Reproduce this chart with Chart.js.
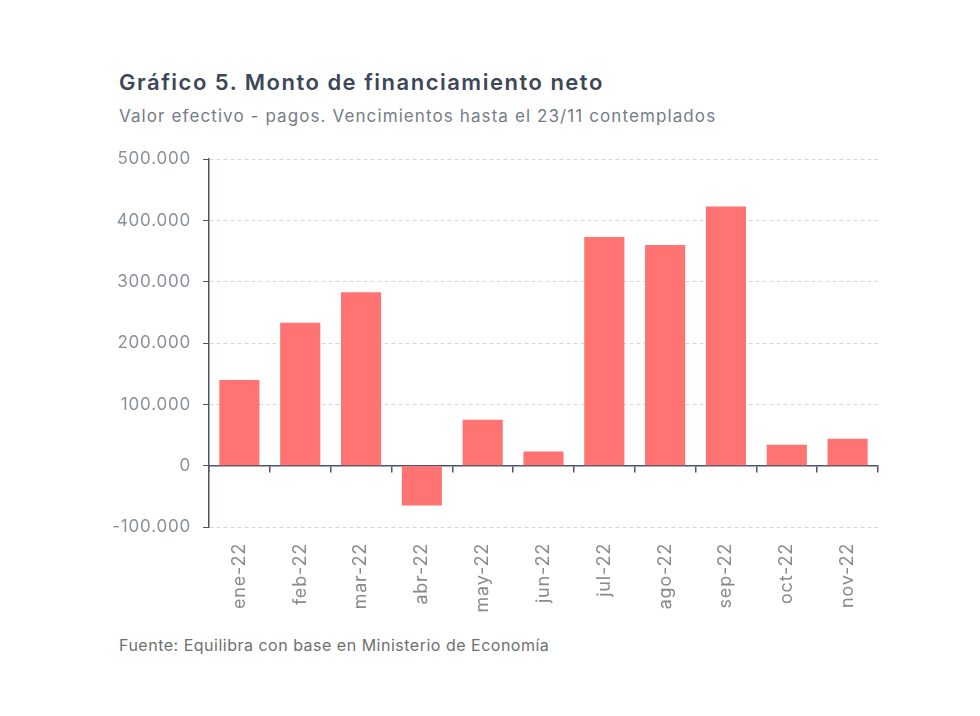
<!DOCTYPE html>
<html>
<head>
<meta charset="utf-8">
<script src="https://cdn.jsdelivr.net/npm/chart.js@4"></script>
<style>
  body { margin: 0; background: #fff; font-family: Inter, "Liberation Sans", sans-serif; }
  #wrap { position: relative; width: 980px; height: 716px; }
  .title { position: absolute; left: 119px; top: 69px; font-size: 22px; font-weight: 600; letter-spacing: 1.5px; color: #3d4759; }
  .subtitle { position: absolute; left: 119px; top: 106px; font-size: 17px; letter-spacing: 1.1px; color: #767c86; }
  .source { position: absolute; left: 119px; top: 635px; font-size: 16px; letter-spacing: 0.5px; color: #6f6f6f; }
  #box { position: absolute; left: 110px; top: 137px; width: 780px; height: 490px; }
</style>
</head>
<body>
<div id="wrap">
  <div class="title">Gráfico 5. Monto de financiamiento neto</div>
  <div class="subtitle">Valor efectivo - pagos. Vencimientos hasta el 23/11 contemplados</div>
  <div id="box"><canvas id="chart"></canvas></div>
  <div class="source">Fuente: Equilibra con base en Ministerio de Economía</div>
</div>
<script>
const months = ['ene-22', 'feb-22', 'mar-22', 'abr-22', 'may-22', 'jun-22', 'jul-22', 'ago-22', 'sep-22', 'oct-22', 'nov-22'];
const netFinancing = [140000, 233000, 283000, -65000, 75000, 23000, 373000, 360000, 423000, 34000, 44000];
const yTicks = [-100000, 0, 100000, 200000, 300000, 400000, 500000];

const axisColor = '#4b5568';
const fmt = (v) => v.toLocaleString('de-DE');

// the reference type is set a little wide, so space the canvas letters
const spacing = {
  id: 'spacing',
  beforeUpdate: (chart) => { chart.ctx.letterSpacing = '0.8px'; },
  beforeDraw: (chart) => { chart.ctx.letterSpacing = '0.8px'; }
};

const ctx = document.getElementById('chart').getContext('2d');
new Chart(ctx, {
  type: 'bar',
  data: {
    labels: months,
    datasets: [{
      data: netFinancing,
      backgroundColor: '#ff7373',
      barPercentage: 0.66,
      categoryPercentage: 1,
      xAxisID: 'x'
    }]
  },
  options: {
    responsive: true,
    maintainAspectRatio: false,
    animation: false,
    layout: { autoPadding: false, padding: { top: 14, right: 12 } },
    plugins: {
      legend: { display: false },
      tooltip: { enabled: false }
    },
    scales: {
      // axis line at zero with tick marks between categories
      x: {
        position: { y: 0 },
        offset: true,
        grid: { offset: true, drawOnChartArea: false, drawTicks: true, tickLength: 6, color: axisColor, lineWidth: 1.5 },
        border: { color: axisColor, width: 1.5 },
        ticks: { display: false }
      },
      // month labels at the bottom
      xLabels: {
        type: 'category',
        labels: months,
        position: 'bottom',
        offset: true,
        grid: { display: false },
        border: { display: false },
        ticks: { color: '#8a8a8a', font: { family: 'Inter', size: 18 }, minRotation: 90, maxRotation: 90, padding: 8 },
        afterFit: (s) => { s.height = 100; }
      },
      y: {
        min: -100000,
        max: 500000,
        afterBuildTicks: (s) => { s.ticks = yTicks.map(v => ({ value: v })); },
        afterFit: (s) => { s.width = 99; },
        grid: {
          color: '#d6d6d6',
          tickColor: axisColor,
          tickLength: 6,
          drawTicks: true
        },
        border: { color: axisColor, width: 1.5, dash: [4, 3] },
        ticks: { color: '#8a8f99', font: { family: 'Inter', size: 17 }, padding: 12, callback: (v) => fmt(v) }
      }
    }
  },
  plugins: [spacing]
});
</script>
</body>
</html>
